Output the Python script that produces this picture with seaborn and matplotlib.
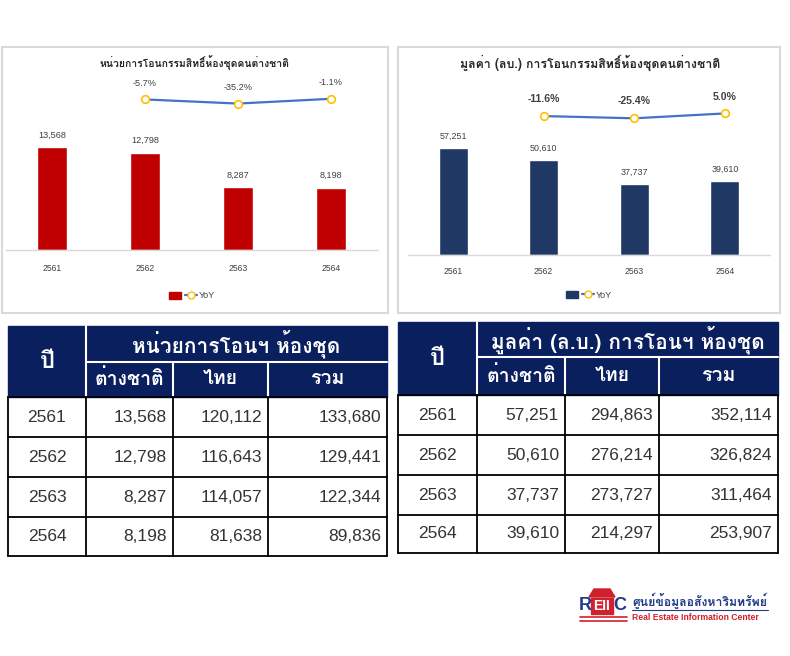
import matplotlib
matplotlib.use("Agg")
import matplotlib.pyplot as plt
from matplotlib.patches import Rectangle, Patch, Polygon
from matplotlib.lines import Line2D
import seaborn as sns
import pandas as pd

# ข้อมูล
years = ["2561", "2562", "2563", "2564"]
units_foreign = [13568, 12798, 8287, 8198]
units_thai = [120112, 116643, 114057, 81638]
units_total = [133680, 129441, 122344, 89836]
units_yoy = [-5.7, -35.2, -1.1]

value_foreign = [57251, 50610, 37737, 39610]
value_thai = [294863, 276214, 273727, 214297]
value_total = [352114, 326824, 311464, 253907]
value_yoy = [-11.6, -25.4, 5.0]

title_units = "หน่วยการโอนกรรมสิทธิ์ห้องชุดคนต่างชาติ"
title_value = "มูลค่า (ลบ.) การโอนกรรมสิทธิ์ห้องชุดคนต่างชาติ"
head_units = "หน่วยการโอนฯ ห้องชุด"
head_value = "มูลค่า (ล.บ.) การโอนฯ ห้องชุด"
sub_heads = ["ต่างชาติ", "ไทย", "รวม"]

sns.set_theme(style="white")
THAI = ["Loma", "Noto Sans Thai Looped", "DejaVu Sans"]
ARIAL = ["Liberation Sans", "DejaVu Sans"]
plt.rcParams["font.family"] = ARIAL

W, H = 790, 656
fig = plt.figure(figsize=(W / 100, H / 100), dpi=100)


def box(x0, y0, x1, y1):
    return [x0 / W, 1 - y1 / H, (x1 - x0) / W, (y1 - y0) / H]


# พื้นหลัง (กรอบ ตาราง โลโก้) วาดในพิกัดพิกเซล
bg = fig.add_axes([0, 0, 1, 1])
bg.set_xlim(0, W)
bg.set_ylim(H, 0)
bg.axis("off")
bg.patch.set_alpha(0)


def draw_chart(pos, vals, yoy, color, title, ymax, yoy_lim, title_xy, title_size,
               lab_size, yoy_size, yoy_weight, tick_pad, legend_xy):
    ax = fig.add_axes(box(*pos))
    ax.patch.set_alpha(0)
    df = pd.DataFrame({"year": years, "val": vals})
    sns.barplot(data=df, x="year", y="val", color=color, width=0.32,
                saturation=1, ax=ax)
    ax.set_ylim(0, ymax)
    ax.set_xlim(-0.5, 3.5)
    for i, v in enumerate(vals):
        ax.annotate("{:,}".format(v), (i, v), xytext=(0, 5.5), textcoords="offset points",
                    ha="center", va="bottom", fontsize=lab_size, color="#404040")
    ax.set_xlabel("")
    ax.set_ylabel("")
    ax.set_yticks([])
    ax.tick_params(axis="x", length=0, pad=tick_pad, labelsize=6.2, labelcolor="#404040")
    for s in ["top", "right", "left"]:
        ax.spines[s].set_visible(False)
    ax.spines["bottom"].set_color("#D9D9D9")
    ax.spines["bottom"].set_linewidth(1)

    ax2 = ax.twinx()
    sns.lineplot(x=[1, 2, 3], y=yoy, ax=ax2, color="#4472C4", lw=1.6,
                 marker="o", markersize=5.5, markerfacecolor="white",
                 markeredgecolor="#FFC000", markeredgewidth=1.2)
    ax2.set_ylim(*yoy_lim)
    ax2.set_xlim(-0.5, 3.5)
    ax2.axis("off")
    for i, v in enumerate(yoy):
        ax2.annotate("{:.1f}%".format(v), (i + 1, v), xytext=(0, 8.5),
                     textcoords="offset points", ha="center", va="bottom",
                     fontsize=yoy_size, fontweight=yoy_weight, color="#404040")

    fig.text(title_xy[0] / W, 1 - title_xy[1] / H, title, ha="center", va="center",
             family=THAI, fontsize=title_size, fontweight="bold", color="#262626")

    handles = [Patch(facecolor=color, edgecolor=color),
               Line2D([], [], color="#4472C4", lw=1.6, marker="o", markersize=5,
                      markerfacecolor="white", markeredgecolor="#FFC000")]
    fig.legend(handles, ["", "YoY"], loc="center",
               bbox_to_anchor=(legend_xy[0] / W, 1 - legend_xy[1] / H),
               ncol=2, frameon=False, fontsize=6.5, handlelength=1.3, handleheight=0.9,
               handletextpad=0.2, columnspacing=0.2, labelcolor="#404040")


# กรอบกราฟ
bg.add_patch(Rectangle((1.5, 46.5), 386, 266, fill=False, ec="#D9D9D9", lw=1.5))
bg.add_patch(Rectangle((398, 46.5), 382, 266, fill=False, ec="#D9D9D9", lw=1.5))

draw_chart((5.5, 72, 377.5, 250), units_foreign, units_yoy, "#C00000", title_units,
           23450, (-1080, 190), (194, 63), 7.5, 6.6, 6.6, "normal", 10, (192, 296))
draw_chart((407.7, 72, 770.3, 255), value_foreign, value_yoy, "#1F3864", title_value,
           97900, (-880, 264), (590, 63), 8.9, 6.4, 7.6, "bold", 8.5, (589, 295))

NAVY = "#0A1F5E"


def draw_table(cols, hrows, drows, head, cols_data):
    x0, x1 = cols[0], cols[-1]
    bg.add_patch(Rectangle((x0, hrows[0]), x1 - x0, hrows[2] - hrows[0],
                           fc=NAVY, ec=NAVY, lw=1))
    # เส้นขาวในหัวตาราง
    bg.plot([cols[1], cols[1]], [hrows[0], hrows[2]], color="white", lw=1.5)
    bg.plot([cols[1], x1], [hrows[1], hrows[1]], color="white", lw=1.5)
    for c in cols[2:-1]:
        bg.plot([c, c], [hrows[1], hrows[2]], color="white", lw=1.5)
    bg.text((cols[0] + cols[1]) / 2, (hrows[0] + hrows[2]) / 2, "ปี", ha="center",
            va="center", color="white", family=THAI, fontsize=17, fontweight="bold")
    bg.text((cols[1] + x1) / 2, (hrows[0] + hrows[1]) / 2, head, ha="center",
            va="center", color="white", family=THAI, fontsize=15, fontweight="bold")
    for j, s in enumerate(sub_heads):
        bg.text((cols[j + 1] + cols[j + 2]) / 2, (hrows[1] + hrows[2]) / 2, s,
                ha="center", va="center", color="white", family=THAI, fontsize=14,
                fontweight="bold")
    # ส่วนข้อมูล
    for r in drows:
        bg.plot([x0, x1], [r, r], color="black", lw=1.3)
    for c in cols:
        bg.plot([c, c], [drows[0], drows[-1]], color="black", lw=1.3)
    for i, y in enumerate(years):
        cy = (drows[i] + drows[i + 1]) / 2
        bg.text((cols[0] + cols[1]) / 2, cy, y, ha="center", va="center",
                family=ARIAL, fontsize=12.5, color="#333333")
        for j, col in enumerate(cols_data):
            bg.text(cols[j + 2] - 6, cy, "{:,}".format(col[i]), ha="right",
                    va="center", family=ARIAL, fontsize=12.5, color="#333333")


draw_table([8, 86, 173, 268, 387], [326, 362, 397], [397, 437, 477, 517, 556],
           head_units, [units_foreign, units_thai, units_total])
draw_table([398, 477, 565, 659, 778], [322, 357, 395], [395, 435, 475, 515, 553],
           head_value, [value_foreign, value_thai, value_total])

# โลโก้ REIC
RED, BLUE = "#D0202E", "#1F3C88"
bg.add_patch(Polygon([(589, 597), (615, 597), (610, 589), (594, 589)], closed=True,
                     fc=RED, ec=RED))
bg.add_patch(Rectangle((591, 598), 22, 16, fc=RED, ec=RED))
bg.text(579, 606, "R", color=BLUE, fontsize=13, fontweight="bold", va="center",
        family=ARIAL)
bg.text(602, 606, "EII", color="white", fontsize=10, fontweight="bold", va="center",
        ha="center", family=ARIAL)
bg.text(613.5, 606, "C", color=BLUE, fontsize=13, fontweight="bold", va="center",
        family=ARIAL)
bg.plot([580, 627], [617, 617], color=RED, lw=1.2)
bg.plot([580, 627], [620.5, 620.5], color=RED, lw=1.2)
bg.text(632, 601, "ศูนย์ข้อมูลอสังหาริมทรัพย์", color=BLUE, fontsize=8.8,
        fontweight="bold", va="center", family=THAI)
bg.plot([632, 768], [610, 610], color=BLUE, lw=0.8)
bg.text(632, 617, "Real Estate Information Center", color=RED, fontsize=6.2,
        fontweight="bold", va="center", family=ARIAL)

fig.savefig("out.png", dpi=100)
